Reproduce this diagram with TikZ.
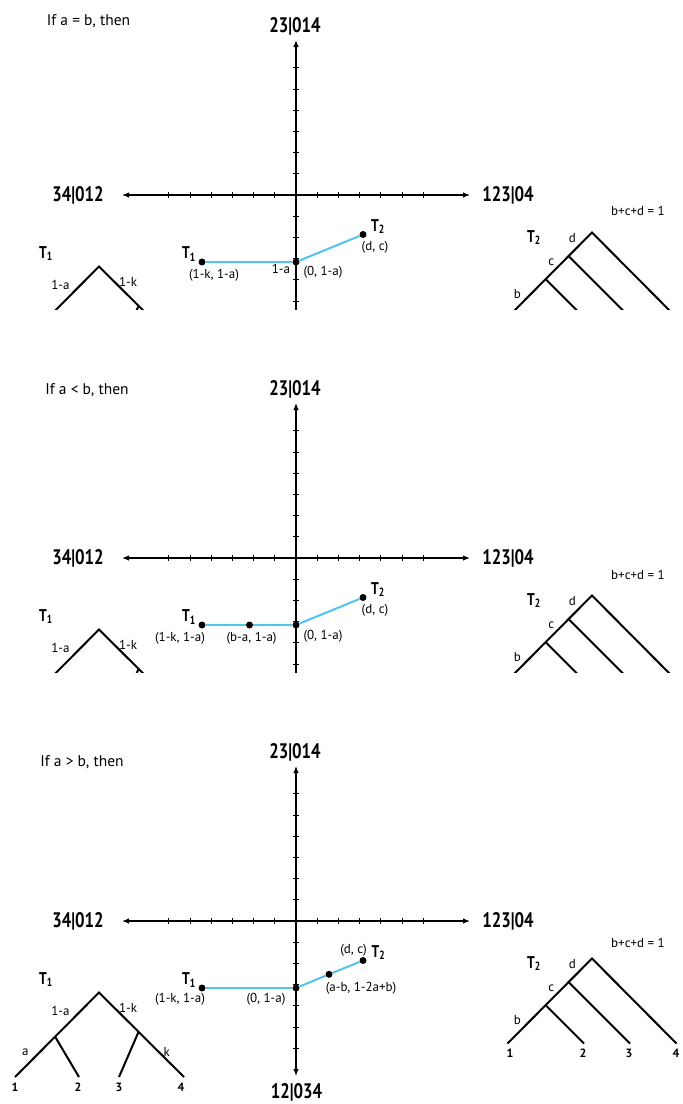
\documentclass[tikz,border=0pt]{standalone}
\usepackage{fontspec}
\setmainfont{PT Sans}
\newfontfamily\narrowbold[FakeStretch=0.8]{PT Sans}
\usetikzlibrary{arrows.meta}
\definecolor{skyline}{RGB}{80,195,240}

\begin{document}
\begin{tikzpicture}[
        x=1pt, y=-1pt,
        axis/.style={line width=1.2pt, {Latex[length=7pt,width=5.5pt]}-{Latex[length=7pt,width=5.5pt]}},
        tick/.style={line width=1pt},
        branch/.style={line width=2pt},
        seg/.style={line width=2pt, draw=skyline},
        dot/.style={circle, fill, inner sep=0pt, minimum size=7pt},
        lab/.style={inner sep=0pt, font=\fontsize{13}{13}\selectfont},
        headline/.style={inner sep=0pt, font=\fontsize{15.5}{16}\selectfont},
        axlab/.style={inner sep=0pt, font=\narrowbold\bfseries\fontsize{21}{21}\selectfont},
        tlab/.style={inner sep=0pt, font=\narrowbold\bfseries\fontsize{17}{17}\selectfont},
        leaf/.style={inner sep=0pt, font=\bfseries\fontsize{12}{12}\selectfont},
        axes/.pic={
            \coordinate (-o) at (296,0);
            \coordinate (-w) at (122,0);
            \coordinate (-e) at (470,0);
            \coordinate (-n) at (296,-155);
            \coordinate (-s) at (296,155);
            \draw[axis] (-w) -- (-e);
            \draw[axis] (-s) -- (-n);
            \foreach \i in {1,...,6} {
                \draw[tick] (296+21.2*\i,-3) -- (296+21.2*\i,3);
                \draw[tick] (296-21.2*\i,-3) -- (296-21.2*\i,3);
                \draw[tick] (293,21.2*\i) -- (299,21.2*\i);
                \draw[tick] (293,-21.2*\i) -- (299,-21.2*\i);
            }
            \node[axlab] (-wl) at (78,0) {34|012};
            \node[axlab] (-el) at (508,0) {123|04};
            \node[axlab] (-nl) at (295,-168.4) {23|014};
            \node[axlab] (-sl) at (296.5,171.6) {12|034};
        },
        treeone/.pic={
            \coordinate (-r) at (99,71.5);
            \coordinate (-u) at (55,115.5);
            \coordinate (-v) at (138.5,111);
            \coordinate (-l1) at (15,156);
            \coordinate (-l2) at (79,156);
            \coordinate (-l3) at (119,156);
            \coordinate (-l4) at (184,156);
            \draw[branch] (-l1) -- (-r) -- (-l4);
            \draw[branch] (-u) -- (-l2);
            \draw[branch] (-v) -- (-l3);
            \node[tlab] (-t) at (46,58.6) {T\textsubscript{1}};
            \node[lab] (-ea) at (60.4,90) {1-a};
            \node[lab] (-ek) at (128,87) {1-k};
            \node[lab] (-fa) at (25.4,131) {a};
            \node[lab] (-fk) at (166.7,130.5) {k};
            \node[leaf] (-n1) at (15,166.6) {1};
            \node[leaf] (-n2) at (78,166.6) {2};
            \node[leaf] (-n3) at (119,166.6) {3};
            \node[leaf] (-n4) at (181,166.6) {4};
        },
        treetwo/.pic={
            \coordinate (-r) at (592,37.5);
            \coordinate (-c) at (568.5,61);
            \coordinate (-b) at (545.5,84);
            \coordinate (-l1) at (507.5,122.5);
            \coordinate (-l2) at (584,122.5);
            \coordinate (-l3) at (630,122.5);
            \coordinate (-l4) at (676.5,122.5);
            \draw[branch] (-l1) -- (-r) -- (-l4);
            \draw[branch] (-b) -- (-l2);
            \draw[branch] (-c) -- (-l3);
            \node[tlab] (-t) at (534,42.6) {T\textsubscript{2}};
            \node[lab] (-ed) at (572.4,43.3) {d};
            \node[lab] (-ec) at (551.4,67.6) {c};
            \node[lab] (-eb) at (517.3,99.3) {b};
            \node[leaf] (-n1) at (510,132.6) {1};
            \node[leaf] (-n2) at (583,132.6) {2};
            \node[leaf] (-n3) at (629,132.6) {3};
            \node[leaf] (-n4) at (676,132.6) {4};
        }
    ]
    \useasboundingbox (0,0) rectangle (683,1104);

    \begin{scope}[shift={(0,195)}]
    \begin{scope}
    \clip (0,-195) rectangle (683,114.5);
    \pic (ga) at (0,0) {axes};
    \pic (ua) at (0,0) {treeone};
    \pic (va) at (0,0) {treetwo};
    \end{scope}
    \node[headline] (ifa) at (88.5,-174.3) {If a = b, then};
    \node[lab] (suma) at (638,16) {b+c+d = 1};
    \node[dot] (t1a) at (202,67) {};
    \node[dot] (oa)  at (296,67) {};
    \node[dot] (t2a) at (363,39.5) {};
    \draw[seg] (t1a) -- (oa);
    \draw[seg] (oa) -- (t2a);
    \node[tlab] (t1la) at (189,59) {T\textsubscript{1}};
    \node[lab] (t1ca) at (214,80.3) {(1-k, 1-a)};
    \node[lab] (oka) at (281,74.3) {1-a};
    \node[lab] (oca) at (323,77.7) {(0, 1-a)};
    \node[tlab] (t2la) at (378,31.7) {T\textsubscript{2}};
    \node[lab] (t2ca) at (375,52.3) {(d, c)};
    \end{scope}

    \begin{scope}[shift={(0,558)}]
    \begin{scope}
    \clip (0,-195) rectangle (683,114.5);
    \pic (gb) at (0,0) {axes};
    \pic (ub) at (0,0) {treeone};
    \pic (vb) at (0,0) {treetwo};
    \end{scope}
    \node[headline] (ifb) at (87,-168) {If a < b, then};
    \node[lab] (sumb) at (638,17) {b+c+d = 1};
    \node[dot] (t1b) at (202,67) {};
    \node[dot] (mb)  at (249.5,67) {};
    \node[dot] (ob)  at (296,67) {};
    \node[dot] (t2b) at (363,39.5) {};
    \draw[seg] (t1b) -- (mb);
    \draw[seg] (mb) -- (ob);
    \draw[seg] (ob) -- (t2b);
    \node[tlab] (t1lb) at (189,59) {T\textsubscript{1}};
    \node[lab] (t1cb) at (180,80) {(1-k, 1-a)};
    \node[lab] (mcb) at (251.6,80) {(b-a, 1-a)};
    \node[lab] (ocb) at (323,78) {(0, 1-a)};
    \node[tlab] (t2lb) at (378,31.6) {T\textsubscript{2}};
    \node[lab] (t2cb) at (375,52.3) {(d, c)};
    \end{scope}

    \begin{scope}[shift={(0,921)}]
    \pic (gc) at (0,0) {axes};
    \pic (uc) at (0,0) {treeone};
    \pic (vc) at (0,0) {treetwo};
    \node[headline] (ifc) at (82,-158.7) {If a > b, then};
    \node[lab] (sumc) at (638,22.3) {b+c+d = 1};
    \node[dot] (t1c) at (202,67) {};
    \node[dot] (oc)  at (296,67) {};
    \node[dot] (mc)  at (329,53.3) {};
    \node[dot] (t2c) at (363,39.5) {};
    \draw[seg] (t1c) -- (oc);
    \draw[seg] (oc) -- (mc);
    \draw[seg] (mc) -- (t2c);
    \node[tlab] (t1lc) at (189,59) {T\textsubscript{1}};
    \node[lab] (t1cc) at (180,78.3) {(1-k, 1-a)};
    \node[lab] (occ) at (266,78.3) {(0, 1-a)};
    \node[lab] (mcc) at (361,67.3) {(a-b, 1-2a+b)};
    \node[lab] (t2cc) at (353.6,29) {(d, c)};
    \node[tlab] (t2lc) at (378.5,31.7) {T\textsubscript{2}};
    \end{scope}
\end{tikzpicture}
\end{document}
